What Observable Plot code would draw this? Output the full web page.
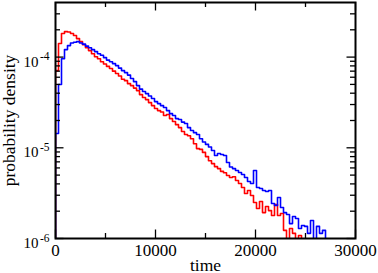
<!DOCTYPE html>
<html><head><meta charset="utf-8">
<script src="https://cdn.jsdelivr.net/npm/d3@7"></script>
<script src="https://cdn.jsdelivr.net/npm/@observablehq/plot@0.6"></script>
<style>html,body{margin:0;padding:0;background:#fff;} svg{display:block}</style>
</head><body><div id="chart"></div>
<script>
const binWidth = 300;
const redDensity = [
7.1e-5, 1.41e-4, 1.82e-4, 1.91e-4, 1.89e-4, 1.82e-4, 1.73e-4, 1.60e-4, 1.48e-4, 1.37e-4,
1.27e-4, 1.18e-4, 1.09e-4, 1.01e-4, 9.6e-5, 8.9e-5, 8.4e-5, 7.9e-5, 7.5e-5, 7.0e-5,
6.6e-5, 6.2e-5, 5.7e-5, 5.5e-5, 5.1e-5, 4.85e-5, 4.55e-5, 4.27e-5, 3.86e-5, 3.58e-5,
3.40e-5, 3.15e-5, 2.92e-5, 2.71e-5, 2.57e-5, 2.48e-5, 2.27e-5, 2.33e-5, 2.10e-5, 1.95e-5,
1.80e-5, 1.67e-5, 1.51e-5, 1.40e-5, 1.36e-5, 1.26e-5, 1.11e-5, 9.8e-6, 9.6e-6, 8.9e-6,
8.0e-6, 7.2e-6, 6.7e-6, 6.2e-6, 5.9e-6, 5.5e-6, 5.3e-6, 4.95e-6, 4.7e-6, 4.8e-6,
4.36e-6, 4.04e-6, 3.65e-6, 3.13e-6, 3.38e-6, 2.98e-6, 2.49e-6, 2.14e-6, 2.56e-6, 1.93e-6,
2.25e-6, 2.03e-6, 1.79e-6, 2.37e-6, 1.79e-6, 1.89e-6, 1.23e-6, 0, 1.29e-6, 1.14e-6,
0, 1.08e-6
];
const blueDensity = [
1.44e-5, 4.98e-5, 9.6e-5, 1.21e-4, 1.34e-4, 1.43e-4, 1.46e-4, 1.48e-4, 1.43e-4, 1.39e-4,
1.32e-4, 1.27e-4, 1.21e-4, 1.15e-4, 1.09e-4, 1.05e-4, 9.87e-5, 9.27e-5, 8.9e-5, 8.48e-5,
8.06e-5, 7.56e-5, 7.1e-5, 6.75e-5, 6.33e-5, 5.80e-5, 5.37e-5, 4.85e-5, 4.44e-5, 4.17e-5,
3.96e-5, 3.72e-5, 3.49e-5, 3.23e-5, 3.07e-5, 2.92e-5, 2.78e-5, 2.57e-5, 2.38e-5, 2.27e-5,
2.10e-5, 2.05e-5, 1.92e-5, 1.85e-5, 1.67e-5, 1.55e-5, 1.47e-5, 1.40e-5, 1.26e-5, 1.16e-5,
1.09e-5, 1.02e-5, 9.33e-6, 8.21e-6, 8.64e-6, 8.43e-6, 8.21e-6, 6.88e-6, 6.14e-6, 5.9e-6,
5.61e-6, 5.34e-6, 5.07e-6, 4.70e-6, 4.25e-6, 4.04e-6, 5.61e-6, 3.65e-6, 3.56e-6, 3.38e-6,
3.30e-6, 3.38e-6, 2.43e-6, 2.31e-6, 2.83e-6, 2.20e-6, 1.93e-6, 1.84e-6, 1.46e-6, 1.75e-6,
1.66e-6, 1.29e-6, 1.39e-6, 1.36e-6, 1.14e-6, 1.58e-6, 0, 1.36e-6, 1.14e-6, 1.23e-6
];
const xMajorTicks = [0, 10000, 20000, 30000];
const xMinorTicks = [5000, 15000, 25000];
const yMajorTicks = [1e-6, 1e-5, 1e-4];
const yMinorTicks = [2e-6,3e-6,4e-6,5e-6,6e-6,7e-6,8e-6,9e-6,2e-5,3e-5,4e-5,5e-5,6e-5,7e-5,8e-5,9e-5,2e-4,3e-4];
const xLabel = "time";
const yLabel = "probability density";

const W = 378, H = 273, mL = 55, mR = 23, mT = 2, mB = 35;
const innerW = W - mL - mR, innerH = H - mT - mB;
const majorLen = 8.5, minorLen = 5;

function steps(values) {
  const floor = 1e-8;
  const pts = [{t: 0, v: floor}];
  values.forEach((v, i) => pts.push({t: i * binWidth, v: v > 0 ? v : floor}));
  pts.push({t: values.length * binWidth, v: floor});
  return pts;
}

const font = "'Liberation Serif', 'Times New Roman', serif";
const tickStyle = {stroke: "black", strokeWidth: 1.3};

const chart = Plot.plot({
  width: W, height: H,
  marginLeft: mL, marginRight: mR, marginTop: mT, marginBottom: mB,
  style: {fontFamily: font, background: "white", color: "black"},
  x: {domain: [0, 30000], axis: null},
  y: {type: "log", domain: [1e-6, 4e-4], axis: null},
  marks: [
    Plot.line(steps(redDensity), {x: "t", y: "v", curve: "step-after", stroke: "#ff0000", strokeWidth: 1.6, clip: true}),
    Plot.line(steps(blueDensity), {x: "t", y: "v", curve: "step-after", stroke: "#0000ff", strokeWidth: 1.6, clip: true}),
    Plot.tickX(xMajorTicks, {x: d => d, insetTop: innerH - majorLen, ...tickStyle}),
    Plot.tickX(xMajorTicks, {x: d => d, insetBottom: innerH - majorLen, ...tickStyle}),
    Plot.tickX(xMinorTicks, {x: d => d, insetTop: innerH - minorLen, ...tickStyle}),
    Plot.tickX(xMinorTicks, {x: d => d, insetBottom: innerH - minorLen, ...tickStyle}),
    Plot.tickY(yMajorTicks, {y: d => d, insetRight: innerW - majorLen, ...tickStyle}),
    Plot.tickY(yMajorTicks, {y: d => d, insetLeft: innerW - majorLen, ...tickStyle}),
    Plot.tickY(yMinorTicks, {y: d => d, insetRight: innerW - minorLen, ...tickStyle}),
    Plot.tickY(yMinorTicks, {y: d => d, insetLeft: innerW - minorLen, ...tickStyle}),
    Plot.frame({stroke: "black", strokeWidth: 2}),
    Plot.text(xMajorTicks, {x: d => d, text: d => String(d), frameAnchor: "bottom", dy: 17, lineAnchor: "bottom", fontSize: 17, fill: "black"}),
    Plot.text(yMajorTicks, {y: d => d, text: () => "10", frameAnchor: "left", textAnchor: "end", dx: -17, dy: 9.5, lineAnchor: "bottom", fontSize: 15, fill: "black"}),
    Plot.text(yMajorTicks, {y: d => d, text: d => String(Math.round(Math.log10(d))), frameAnchor: "left", textAnchor: "end", dx: -6, dy: 3, lineAnchor: "bottom", fontSize: 11.5, fill: "black"}),
    Plot.text([xLabel], {text: d => d, frameAnchor: "bottom", textAnchor: "middle", dy: 32, lineAnchor: "bottom", fontSize: 17.5, fill: "black"}),
    Plot.text([yLabel], {text: d => d, frameAnchor: "left", textAnchor: "middle", dx: -41, rotate: -90, lineAnchor: "bottom", fontSize: 17.5, fill: "black"})
  ]
});
document.getElementById("chart").appendChild(chart);
</script>
</body></html>
